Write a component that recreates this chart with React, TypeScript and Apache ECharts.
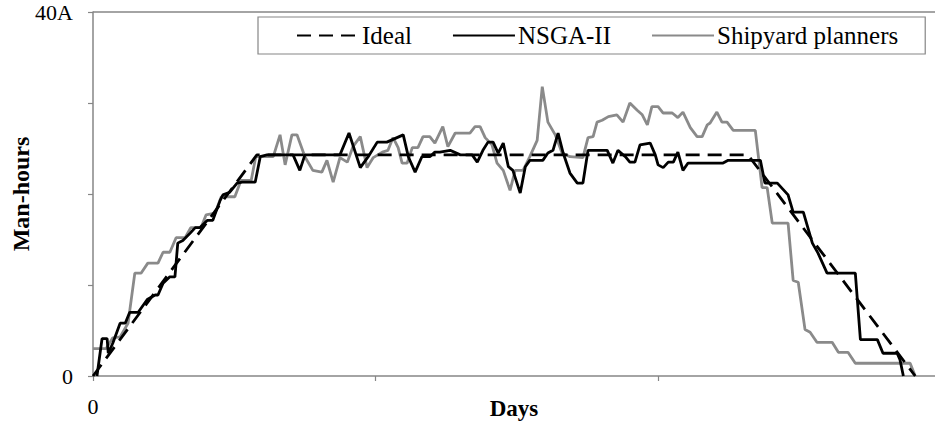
import React, { useEffect, useRef } from "react";
import * as echarts from "echarts";

// Days (x) and man-hours (y)
const idealDays = [0, 29, 115.9, 145.5];
const idealVals = [0, 24.3, 24.3, 0];

const nsgaDays = [0.7, 1.6, 2.5, 2.7, 3.5, 4.8, 5.7, 6.5, 8.0, 9.6, 11.0, 11.5, 12.4, 13.6, 14.5, 15.0, 15.9, 17.2, 18.1, 18.9, 20.2, 21.2, 22.5, 23.0, 24.2, 25.5, 26.4, 28.7, 29.6, 30.8, 35.4, 36.6, 37.5, 43.7, 45.3, 47.3, 48.7, 50.3, 52.0, 54.9, 55.8, 57.0, 58.2, 59.6, 60.5, 61.4, 63.2, 65.0, 67.1, 68.0, 69.0, 69.9, 70.8, 71.7, 72.6, 73.5, 74.3, 75.6, 76.5, 77.3, 79.6, 80.5, 81.4, 82.3, 83.2, 84.4, 85.7, 86.7, 87.6, 91.0, 92.0, 92.9, 94.2, 95.0, 95.9, 96.8, 98.6, 99.5, 100.0, 100.9, 101.8, 102.7, 103.5, 104.4, 105.3, 111.5, 112.4, 118.1, 118.9, 121.1, 123.0, 123.9, 125.7, 127.3, 128.3, 129.9, 134.9, 135.8, 138.8, 139.8, 142.3, 142.8, 143.4];
const nsgaVals = [0, 4.1, 4.1, 2.5, 3.6, 5.8, 5.8, 7.0, 7.0, 8.4, 8.9, 8.9, 10.2, 10.9, 10.9, 14.6, 14.9, 15.7, 16.3, 16.3, 17.1, 17.1, 19.3, 19.9, 20.2, 21.2, 21.3, 21.3, 24.1, 24.3, 24.3, 22.6, 24.3, 24.3, 26.7, 22.9, 24.1, 25.7, 25.7, 26.5, 24.1, 22.4, 24.1, 24.1, 24.6, 24.6, 24.8, 24.3, 24.3, 23.5, 24.8, 25.7, 25.7, 24.5, 25.6, 23.0, 22.6, 20.1, 23.0, 23.7, 23.7, 24.5, 24.8, 26.7, 24.5, 22.3, 21.2, 21.2, 24.8, 24.8, 23.4, 24.8, 24.1, 23.5, 23.5, 25.4, 25.6, 24.3, 23.2, 22.9, 23.5, 23.5, 24.6, 22.6, 23.4, 23.4, 23.7, 23.7, 21.2, 21.2, 19.9, 18.0, 18.0, 14.6, 13.5, 11.3, 11.3, 4.0, 4.0, 2.5, 2.5, 1.8, 0];

const shipDays = [0, 2.3, 3.5, 4.8, 6.2, 7.4, 8.5, 9.7, 11.5, 12.4, 13.6, 14.7, 16.3, 17.3, 19.1, 20.0, 21.6, 22.7, 25.1, 26.2, 28.0, 28.8, 31.9, 33.1, 34.0, 35.2, 36.1, 37.5, 38.9, 40.5, 41.4, 42.5, 43.7, 45.0, 46.0, 47.3, 48.5, 49.6, 51.2, 52.2, 53.1, 54.0, 54.7, 55.6, 56.5, 57.5, 58.4, 59.6, 60.5, 61.9, 62.8, 64.1, 66.7, 67.6, 68.5, 69.4, 70.6, 71.5, 72.6, 73.8, 74.7, 76.1, 77.3, 78.6, 79.5, 80.5, 81.8, 83.0, 84.4, 86.7, 87.6, 88.5, 89.2, 90.1, 91.2, 92.7, 93.8, 95.0, 96.3, 97.2, 98.1, 98.9, 100.0, 100.9, 102.5, 103.5, 104.4, 105.7, 106.9, 107.8, 108.7, 109.2, 110.4, 111.3, 112.2, 113.3, 117.2, 118.4, 119.3, 120.2, 123.0, 123.9, 124.8, 126.0, 126.9, 128.1, 130.8, 131.9, 133.6, 134.9, 144.6, 145.5];
const shipVals = [3.0, 3.0, 4.2, 4.3, 5.8, 11.3, 11.3, 12.4, 12.4, 13.6, 13.6, 15.2, 15.2, 16.3, 16.3, 17.7, 17.9, 19.7, 19.7, 21.5, 21.5, 24.1, 24.1, 26.5, 23.2, 26.5, 26.5, 24.1, 22.6, 22.4, 23.7, 21.3, 24.0, 23.5, 25.2, 26.3, 22.9, 24.0, 24.6, 24.8, 26.2, 25.1, 23.4, 23.4, 25.1, 25.1, 26.3, 26.3, 25.6, 27.4, 25.2, 26.7, 26.7, 27.4, 27.4, 26.2, 25.4, 23.4, 22.6, 20.4, 22.6, 22.6, 24.1, 25.9, 31.8, 27.9, 26.5, 24.5, 24.1, 24.0, 26.2, 26.3, 27.9, 28.1, 28.5, 28.7, 27.9, 30.0, 29.2, 28.7, 27.6, 29.6, 29.6, 28.9, 28.9, 28.4, 29.0, 27.3, 26.3, 26.3, 27.6, 27.8, 29.0, 27.9, 27.9, 27.0, 27.0, 20.7, 20.7, 16.8, 16.8, 10.5, 10.3, 5.1, 4.8, 3.7, 3.7, 2.6, 2.6, 1.4, 1.4, 0];

const seriesNames = ["Ideal", "NSGA-II", "Shipyard planners"];
const yTickLabels: Record<number, string> = { 0: "0", 40: "40A" };
const xTickLabels: Record<number, string> = { 0: "0" };

const zip = (xs: number[], ys: number[]) => xs.map((x, i) => [x, ys[i]]);

const FONT = "'Liberation Serif', 'Times New Roman', serif";
const AXIS = "#868686";

export default function App() {
  const ref = useRef<HTMLDivElement>(null);
  useEffect(() => {
    if (!ref.current) return;
    const chart = echarts.init(ref.current, undefined, { renderer: "svg" });
    chart.setOption({
      animation: false,
      textStyle: { fontFamily: FONT },
      grid: { left: 93, right: 0, top: 12, bottom: 52, containLabel: false, outerBoundsMode: "none" },
      legend: {
        data: seriesNames,
        left: 258,
        top: 17,
        padding: [6, 27, 6, 38],
        itemGap: 40,
        itemWidth: 62,
        itemHeight: 14,
        borderColor: AXIS,
        borderWidth: 1.2,
        itemStyle: { opacity: 0 },
        textStyle: { fontFamily: FONT, fontSize: 25, color: "#000", padding: [0, 0, 0, -2] },
      },
      xAxis: {
        type: "value",
        min: 0,
        max: 149,
        interval: 50,
        name: "Days",
        nameLocation: "middle",
        nameGap: 21,
        nameMoveOverlap: false,
        nameTextStyle: { fontFamily: FONT, fontSize: 23, fontWeight: "bold", color: "#000" },
        axisLine: { show: true, lineStyle: { color: AXIS, width: 1.5 } },
        axisTick: { show: true, length: 5, lineStyle: { color: AXIS, width: 1.2 } },
        axisLabel: {
          showMaxLabel: false,
          margin: 19,
          fontFamily: FONT,
          fontSize: 22,
          color: "#000",
          formatter: (v: number) => xTickLabels[v] ?? "",
        },
        splitLine: { show: false },
      },
      yAxis: {
        type: "value",
        min: 0,
        max: 40,
        interval: 10,
        name: "Man-hours",
        nameLocation: "middle",
        nameGap: 60,
        nameMoveOverlap: false,
        nameRotate: 90,
        nameTextStyle: { fontFamily: FONT, fontSize: 24, fontWeight: "bold", color: "#000" },
        axisLine: { show: true, lineStyle: { color: AXIS, width: 1.5 } },
        axisTick: { show: true, length: 5, lineStyle: { color: AXIS, width: 1.2 } },
        axisLabel: {
          margin: 20,
          fontFamily: FONT,
          fontSize: 22,
          color: "#000",
          formatter: (v: number) => yTickLabels[v] ?? "",
        },
        splitLine: {
          show: true,
          lineStyle: { color: ["transparent", "transparent", "transparent", "transparent", AXIS], width: 1.5 },
        },
      },
      series: [
        {
          name: "Shipyard planners",
          type: "line",
          data: zip(shipDays, shipVals),
          showSymbol: false,
          symbol: "none",
          lineStyle: { color: "#8a8a8a", width: 2.8 },
          itemStyle: { color: "#8a8a8a" },
          z: 1,
        },
        {
          name: "Ideal",
          type: "line",
          data: zip(idealDays, idealVals),
          showSymbol: false,
          symbol: "none",
          lineStyle: { color: "#000", width: 2.8, type: [14, 8] },
          itemStyle: { color: "#000" },
          z: 2,
        },
        {
          name: "NSGA-II",
          type: "line",
          data: zip(nsgaDays, nsgaVals),
          showSymbol: false,
          symbol: "none",
          lineStyle: { color: "#000", width: 2.8 },
          itemStyle: { color: "#000" },
          z: 3,
        },
      ],
    });
    return () => chart.dispose();
  }, []);
  return <div ref={ref} style={{ width: 935, height: 428, position: "absolute", left: 0, top: 0 }} />;
}
